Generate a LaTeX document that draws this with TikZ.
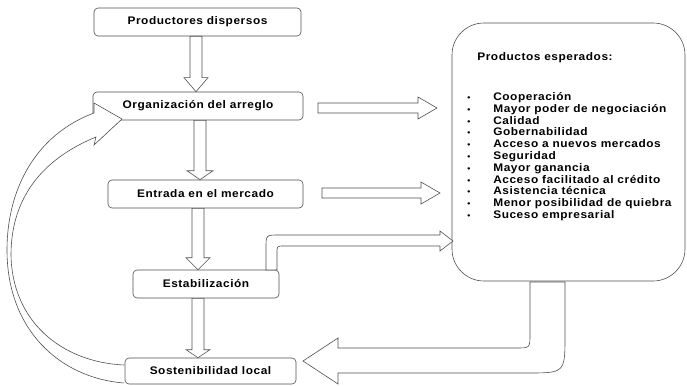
\documentclass[tikz,border=0pt]{standalone}
\usepackage{fontspec}
\setmainfont{Liberation Sans}[LetterSpace=5,FakeStretch=1.08]
\usetikzlibrary{calc}
\definecolor{linec}{HTML}{505050}
\newcommand\vblock[5]{% from node #1 to node #2, axis x=#3, head length #4, head half #5
  \draw[block] let \p1=(#1.south), \p2=(#2.north) in
    (#3pt-6pt,\y1) -- (#3pt-6pt,\y2+#4pt) -- (#3pt-#5pt,\y2+#4pt) -- (#3pt,\y2)
    -- (#3pt+#5pt,\y2+#4pt) -- (#3pt+6pt,\y2+#4pt) -- (#3pt+6pt,\y1) -- cycle;}
\newcommand\hblock[5]{% from coord #1 to coord #2, shaft half #3, head half #4, head length #5
  \draw[block] let \p1=(#1), \p2=(#2) in
    (\x1,\y1+#3pt) -- (\x2-#5pt,\y1+#3pt) -- (\x2-#5pt,\y1+#4pt) -- (\x2,\y1)
    -- (\x2-#5pt,\y1-#4pt) -- (\x2-#5pt,\y1-#3pt) -- (\x1,\y1-#3pt) -- cycle;}
\begin{document}
\begin{tikzpicture}[x=1pt,y=-1pt,line width=0.6pt,
  flowbox/.style={draw=linec, rounded corners=4pt, minimum height=28pt, inner sep=0pt,
    font=\bfseries\fontsize{11}{13}\selectfont},
  block/.style={draw=linec, fill=white, line width=0.6pt, line join=miter},
  itemtext/.style={anchor=base west, inner sep=0pt, font=\bfseries\fontsize{11}{13}\selectfont}]
\useasboundingbox (0,0) rectangle (687,385);

% flow boxes
\node[flowbox, minimum width=207pt] (b1) at (197.5,22) {Productores dispersos};
\node[flowbox, minimum width=210pt] (b2) at (198,106) {Organización del arreglo};
\node[flowbox, minimum width=195pt] (b3) at (205.5,194) {Entrada en el mercado};
\node[flowbox, minimum width=146pt] (b4) at (206,284) {Estabilización};
\node[flowbox, minimum width=171pt, minimum height=26pt] (b5) at (210.5,371) {Sostenibilidad local};

% big box
\node[draw=linec, rounded corners=32pt, minimum width=233pt, minimum height=258pt, inner sep=0pt] (prod) at (568.5,152) {};
\node[itemtext] (title) at (477,61) {Productos esperados:};
\foreach \t [count=\i from 0] in {Cooperación,Mayor poder de negociación,Calidad,Gobernabilidad,
  Acceso a nuevos mercados,Seguridad,Mayor ganancia,Acceso facilitado al crédito,
  Asistencia técnica,Menor posibilidad de quiebra,Suceso empresarial}{
  \node[itemtext] (bul\i) at (467,100.5+11.8*\i) {\fontsize{8}{10}\selectfont•};
  \node[itemtext] (it\i) at (493,100.5+11.8*\i) {\t};
}

% vertical block arrows
\vblock{b1}{b2}{196}{14}{12}
\vblock{b2}{b3}{200}{9}{13}
\vblock{b3}{b4}{198}{12}{12}
\vblock{b4}{b5}{198}{8}{12}

% horizontal block arrows
\coordinate (h1s) at (318,108); \coordinate (h1e) at (437,108);
\coordinate (h2s) at (322,193); \coordinate (h2e) at (440,193);
\hblock{h1s}{h1e}{5}{11}{19}
\hblock{h2s}{h2e}{5}{11}{19}

% bent arrow from Estabilizacion to products
\draw[block] (266,270) -- (266,248) .. controls (266,235) .. (279,235) -- (440,235) -- (440,231)
  -- (453,241) -- (440,251) -- (440,246) -- (284,246) .. controls (277,246) .. (277,253)
  -- (277,270) -- cycle;

% big bent arrow from products to Sostenibilidad
\draw[block] (530,282) -- (530,334) .. controls (530,348) .. (516,348) -- (338,348) -- (338,338)
  -- (303,361) -- (338,384) -- (338,373) -- (527,373) .. controls (565,373) .. (565,335)
  -- (565,282) -- cycle;

% curved feedback arrow
\draw[block] (124,383) .. controls (60,378) and (7,330) .. (7,250)
  .. controls (7,190) and (35,135) .. (94,113) -- (94,103) -- (122,119) -- (94,145) -- (96,137)
  .. controls (40,160) and (11,200) .. (11,255) .. controls (12,320) and (60,362) .. (124,365);
\end{tikzpicture}
\end{document}
